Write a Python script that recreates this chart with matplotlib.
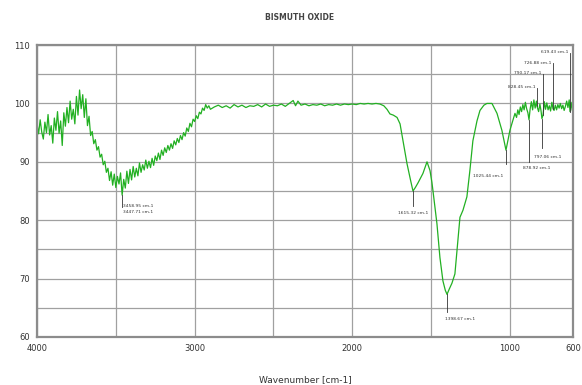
import numpy as np
import matplotlib
matplotlib.use("Agg")
import matplotlib.pyplot as plt

# wavenumber (cm-1) and transmittance (%)
wavenumber = [
    4000, 3990, 3980, 3970, 3960, 3950, 3940, 3930, 3920, 3910,
    3900, 3890, 3880, 3870, 3860, 3850, 3840, 3830, 3820, 3810,
    3800, 3790, 3780, 3770, 3760, 3750, 3740, 3730, 3720, 3710,
    3700, 3690, 3680, 3670, 3660, 3650, 3640, 3630, 3620, 3610,
    3600, 3590, 3580, 3570, 3560, 3550, 3540, 3530, 3520, 3510,
    3500, 3490, 3480, 3470, 3460, 3450, 3440, 3430, 3420, 3410,
    3400, 3390, 3380, 3370, 3360, 3350, 3340, 3330, 3320, 3310,
    3300, 3290, 3280, 3270, 3260, 3250, 3240, 3230, 3220, 3210,
    3200, 3190, 3180, 3170, 3160, 3150, 3140, 3130, 3120, 3110,
    3100, 3090, 3080, 3070, 3060, 3050, 3040, 3030, 3020, 3010,
    3000, 2990, 2980, 2970, 2960, 2950, 2940, 2930, 2920, 2910,
    2900, 2875, 2850, 2825, 2800, 2775, 2750, 2725, 2700, 2675,
    2650, 2625, 2600, 2575, 2550, 2525, 2500, 2475, 2450, 2425,
    2400, 2375, 2360, 2345, 2325, 2300, 2275, 2250, 2225, 2200,
    2175, 2150, 2125, 2100, 2075, 2050, 2025, 2000, 1975, 1950,
    1925, 1900, 1875, 1850, 1825, 1800, 1780, 1761, 1740, 1716,
    1697, 1678, 1653, 1630, 1615, 1600, 1583, 1552, 1526, 1507,
    1495, 1488, 1463, 1444, 1425, 1410, 1399, 1385, 1368, 1349,
    1330, 1317, 1298, 1273, 1254, 1235, 1209, 1190, 1165, 1146,
    1114, 1082, 1051, 1025, 1000, 968, 958, 950, 942, 934,
    926, 918, 910, 902, 894, 886, 879, 872, 864, 856,
    848, 840, 832, 828, 818, 810, 803, 797, 790, 782,
    774, 766, 758, 750, 742, 734, 727, 720, 712, 704,
    696, 688, 680, 672, 664, 656, 648, 640, 632, 624,
    619, 612, 606, 600,
]
transmittance = [
    96.5, 94.8, 97.2, 95.1, 93.9, 96.8, 95.0, 98.1, 94.6, 96.2,
    93.2, 97.5, 95.4, 98.6, 94.9, 97.0, 92.8, 98.4, 96.1, 99.3,
    96.7, 100.4, 97.3, 99.0, 96.5, 101.2, 98.0, 102.3, 99.1, 101.5,
    97.6, 100.8, 96.2, 97.8, 94.5, 95.2, 93.1, 93.8, 92.0, 92.6,
    90.8, 91.3, 89.5, 90.1, 88.2, 88.9, 86.8, 88.3, 86.0, 87.9,
    85.6, 87.5, 86.2, 88.1, 84.3, 87.0, 85.5, 88.4, 86.3, 88.7,
    86.9, 89.2, 87.4, 88.9, 87.6, 89.8, 88.2, 89.5, 88.6, 90.3,
    88.9, 90.1, 89.0, 90.6, 89.4, 91.0, 90.2, 91.5, 90.4, 92.0,
    91.1, 92.4, 91.6, 92.8, 92.0, 93.1, 92.3, 93.6, 92.9, 94.0,
    93.3, 94.5, 93.8, 95.0, 94.4, 95.8, 95.2, 96.6, 96.0, 97.3,
    96.9, 97.9, 97.4, 98.5, 98.2, 99.2, 98.8, 99.8, 99.2, 99.6,
    99.0, 99.4, 99.7, 99.3, 99.6, 99.2, 99.8, 99.4, 99.7, 99.3,
    99.6, 99.5, 99.8, 99.4, 99.9, 99.5, 99.7, 99.6, 99.9, 99.5,
    100.0, 100.5, 99.6, 100.4, 99.7, 99.9, 99.6, 99.8, 99.7, 99.9,
    99.6, 99.8, 99.7, 99.9, 99.7, 99.9, 99.8, 99.9, 99.8, 100.0,
    99.9, 100.0, 99.9, 100.0, 99.9, 99.6, 99.0, 98.2, 98.0, 97.6,
    96.5, 93.6, 89.7, 86.8, 85.0, 85.6, 86.4, 88.0, 90.0, 88.5,
    86.5, 85.0, 79.4, 73.6, 69.6, 68.0, 67.3, 68.2, 69.2, 70.8,
    76.5, 80.5, 81.7, 84.0, 88.5, 93.6, 97.0, 98.8, 99.7, 100.0,
    100.0, 98.3, 95.4, 92.0, 95.4, 98.3, 97.6, 98.9, 98.1, 99.4,
    98.6, 99.8, 98.9, 100.2, 99.1, 98.4, 97.2, 99.0, 100.3, 98.9,
    100.6, 99.2, 100.4, 99.5, 98.6, 99.9, 98.8, 97.4, 98.0, 100.3,
    99.0, 100.1, 98.9, 99.6, 98.7, 100.2, 99.1, 98.8, 99.7, 98.9,
    99.8, 99.2, 100.0, 99.1, 99.7, 98.8, 99.5, 100.4, 99.3, 100.6,
    98.6, 100.2, 99.0, 98.4,
]

# peak annotations: position, label text, end of marker line, label position, alignment
peak_wn = [3460, 1615, 1399, 1025, 879, 797, 828, 790, 727, 619]
peak_text = ["3458.95 cm-1\n3447.71 cm-1", "1615.32 cm-1", "1398.67 cm-1",
             "1025.44 cm-1", "878.92 cm-1", "797.06 cm-1", "828.45 cm-1",
             "790.17 cm-1", "726.88 cm-1", "619.43 cm-1"]
peak_line_end = [82.2, 82.5, 64.2, 89.7, 89.9, 92.3, 102.7, 105.1, 106.9, 108.7]
peak_text_x = [3455, 1615, 1410, 1040, 919, 850, 835, 800, 740, 630]
peak_text_y = [81.9, 81.3, 63.1, 87.6, 89.0, 90.9, 102.8, 105.2, 107.0, 108.8]
peak_ha = ["left", "center", "left", "right", "left", "left", "right", "right", "right", "right"]

fig = plt.figure(figsize=(5.82, 3.85), dpi=100)
ax = fig.add_axes([0.0636, 0.1247, 0.9209, 0.7583])

ax.plot(wavenumber, transmittance, color="#22b022", lw=0.9)

for i in range(len(peak_wn)):
    y0 = transmittance[wavenumber.index(peak_wn[i])]
    ax.plot([peak_wn[i], peak_wn[i]], [y0, peak_line_end[i]], color="#333333", lw=0.6)
    ax.text(peak_text_x[i], peak_text_y[i], peak_text[i], fontsize=3.2,
            color="#333333", ha=peak_ha[i], va="center", linespacing=1.6)

ax.set_xlim(4000, 600)
ax.set_ylim(60, 110)
ax.set_xticks([4000, 3000, 2000, 1000, 600])
ax.set_xticks([3500, 2500, 1500], minor=True)
ax.set_yticks([60, 70, 80, 90, 100, 110])
ax.set_yticks([65, 75, 85, 95, 105], minor=True)
ax.grid(True, which="both", color="#a0a0a0", lw=0.9)
ax.set_axisbelow(True)
ax.tick_params(which="both", length=0, labelsize=6, colors="#333333", pad=5)

for s in ax.spines.values():
    s.set_color("#8c8c8c")
    s.set_linewidth(1.6)

fig.text(0.515, 0.955, "BISMUTH OXIDE", fontsize=5.5, color="#444444",
         ha="center", va="center", fontweight="bold")
ax.set_xlabel("Wavenumber [cm-1]", fontsize=6.5, color="#333333", labelpad=16)

plt.savefig("out.png", dpi=100)
